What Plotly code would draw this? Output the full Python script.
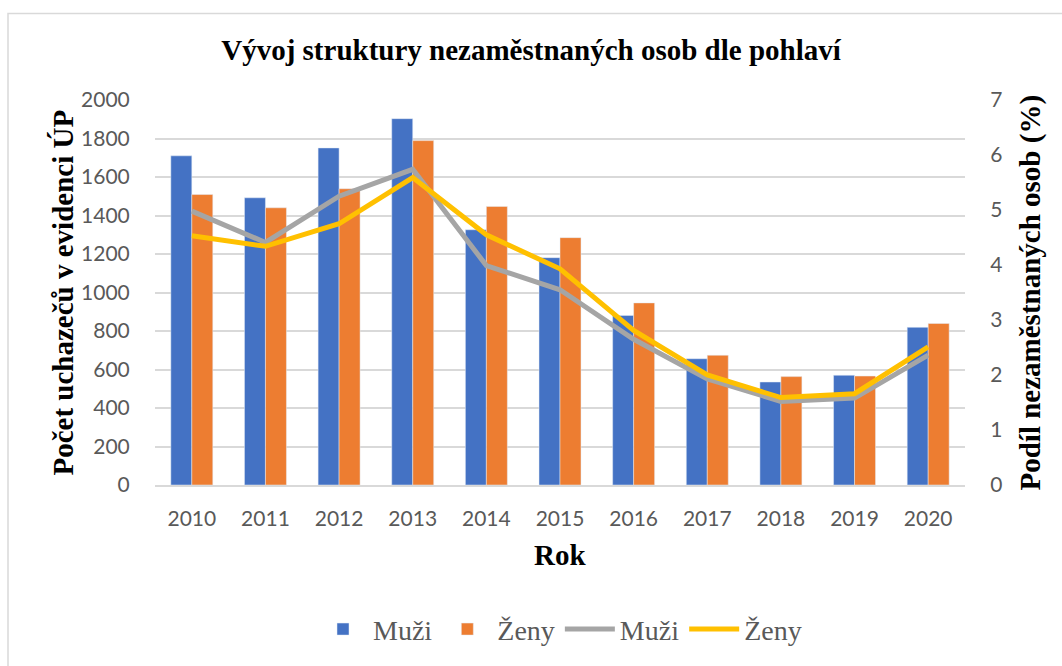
import plotly.graph_objects as go

# Excel-like palette
BLUE = "#4472C4"
ORANGE = "#ED7D31"
GRAY = "#A5A5A5"
GOLD = "#FFC000"
GRID = "#D9D9D9"
TICK = "#595959"

years = ["2010", "2011", "2012", "2013", "2014", "2015", "2016", "2017", "2018", "2019", "2020"]

# počet uchazečů v evidenci ÚP
muzi_pocet = [1710, 1492, 1751, 1903, 1326, 1181, 881, 656, 535, 570, 819]
zeny_pocet = [1509, 1440, 1539, 1789, 1447, 1285, 946, 674, 563, 566, 839]

# podíl nezaměstnaných osob (%)
muzi_podil = [4.98, 4.41, 5.25, 5.74, 3.99, 3.55, 2.65, 1.93, 1.52, 1.58, 2.36]
zeny_podil = [4.53, 4.34, 4.75, 5.59, 4.55, 3.93, 2.81, 2.00, 1.59, 1.66, 2.51]

SERIF = "Liberation Serif"
SANS = "Lato"

fig = go.Figure()
fig.add_trace(go.Bar(x=years, y=muzi_pocet, name="Muži", marker_color=BLUE))
fig.add_trace(go.Bar(x=years, y=zeny_pocet, name="Ženy", marker_color=ORANGE))
fig.add_trace(go.Scatter(x=years, y=muzi_podil, name="Muži", mode="lines",
                         line=dict(color=GRAY, width=5), yaxis="y2"))
fig.add_trace(go.Scatter(x=years, y=zeny_podil, name="Ženy", mode="lines",
                         line=dict(color=GOLD, width=5), yaxis="y2"))

fig.update_layout(
    width=1062, height=666,
    margin=dict(l=155, r=97, t=100, b=179),
    plot_bgcolor="white", paper_bgcolor="white",
    barmode="group", bargap=0.43, bargroupgap=0,
    title=dict(text="<b>Vývoj struktury nezaměstnaných osob dle pohlaví</b>",
               x=0.5, xanchor="center", y=1 - 50 / 666, yanchor="middle",
               font=dict(family=SERIF, size=29, color="black")),
    xaxis=dict(showgrid=False, showline=True, linecolor=GRID, linewidth=1.5,
               ticks="outside", ticklen=14, tickcolor="rgba(0,0,0,0)",
               tickfont=dict(family=SANS, size=21, color=TICK)),
    yaxis=dict(range=[0, 2000], dtick=200, showgrid=True, gridcolor=GRID, gridwidth=1.5,
               zeroline=False, ticks="outside", ticklen=20, tickcolor="rgba(0,0,0,0)",
               tickfont=dict(family=SANS, size=21, color=TICK)),
    yaxis2=dict(range=[0, 7], dtick=1, overlaying="y", side="right", showgrid=False,
                zeroline=False, ticks="outside", ticklen=20, tickcolor="rgba(0,0,0,0)",
                tickfont=dict(family=SANS, size=21, color=TICK)),
    legend=dict(orientation="h", x=0.5, xanchor="center", y=-0.375, yanchor="middle",
                font=dict(family=SERIF, size=28, color=TICK), itemwidth=50,
                traceorder="normal"),
    showlegend=True,
)

fig.add_annotation(text="<b>Počet uchazečů v evidenci ÚP</b>", textangle=-90,
                   xref="paper", yref="paper", x=(62 - 155) / 810, y=0.5,
                   xanchor="center", yanchor="middle",
                   showarrow=False, font=dict(family=SERIF, size=29, color="black"))
fig.add_annotation(text="<b>Podíl nezaměstnaných osob (%)</b>", textangle=-90,
                   xref="paper", yref="paper", x=(1030 - 155) / 810, y=0.5,
                   xanchor="center", yanchor="middle",
                   showarrow=False, font=dict(family=SERIF, size=29, color="black"))
fig.add_annotation(text="<b>Rok</b>", xref="paper", yref="paper", x=0.5, y=(487 - 557) / 387,
                   xanchor="center", yanchor="middle",
                   showarrow=False, font=dict(family=SERIF, size=29, color="black"))

# chart frame
fig.add_shape(type="rect", xref="paper", yref="paper",
              x0=(8 - 155) / 810, x1=1.3, y0=-0.7, y1=(487 - 13) / 387,
              line=dict(color=GRID, width=1.5), layer="below")

fig.write_html("out.html", config={"displayModeBar": False},
               post_script="document.body.style.margin='0px';")
